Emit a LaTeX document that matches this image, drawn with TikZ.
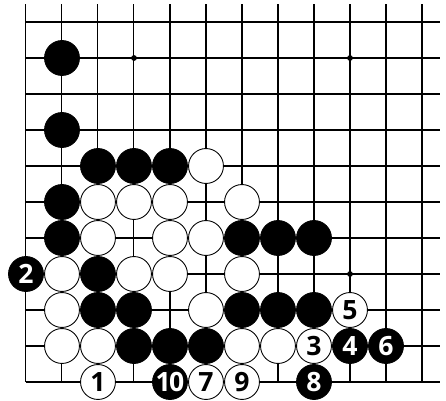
\documentclass[tikz,border=0pt]{standalone}
\usepackage{fontspec}
\newfontfamily\stonefont{Open Sans}
\tikzset{
  stone/.style={circle,draw=black,line width=0.7pt,minimum size=0.97cm,inner sep=0pt,
    font=\stonefont\bfseries\fontsize{21}{21}\selectfont},
  bstone/.style={stone,fill=black,text=white},
  wstone/.style={stone,fill=white,text=black}
}
\begin{document}
\begin{tikzpicture}
  \useasboundingbox (-0.722,-0.5) rectangle (11.667,10.611);
  % grid
  \foreach \i in {0,...,11}
    \draw[line width=0.8pt] (\i,0)--(\i,10.5);
  \foreach \j in {0,...,10}
    \draw[line width=0.8pt] (0,\j)--(11.5,\j);
  \foreach \p in {(3,9),(9,9),(9,3)}
    \fill \p circle (0.08);
  % stones
  \foreach \x/\y in {1/9,1/7,2/6,3/6,4/6,1/5,1/4,6/4,7/4,8/4,2/3,2/2,3/2,6/2,7/2,8/2,3/1,4/1,5/1}
    \node[bstone] (b\x-\y) at (\x,\y) {};
  \foreach \x/\y in {5/6,2/5,3/5,4/5,6/5,2/4,4/4,5/4,1/3,3/3,4/3,6/3,1/2,5/2,1/1,2/1,6/1,7/1}
    \node[wstone] (w\x-\y) at (\x,\y) {};
  % moves
  \foreach \n/\x/\y in {1/2/0,3/8/1,5/9/2,7/5/0,9/6/0}
    \node[wstone] (m\n) at (\x,\y) {\n};
  \foreach \n/\x/\y in {2/0/3,4/9/1,6/10/1,8/8/0}
    \node[bstone] (m\n) at (\x,\y) {\n};
  \node[bstone] (m10) at (4,0) {1\kern-0.06em0};
\end{tikzpicture}
\end{document}
